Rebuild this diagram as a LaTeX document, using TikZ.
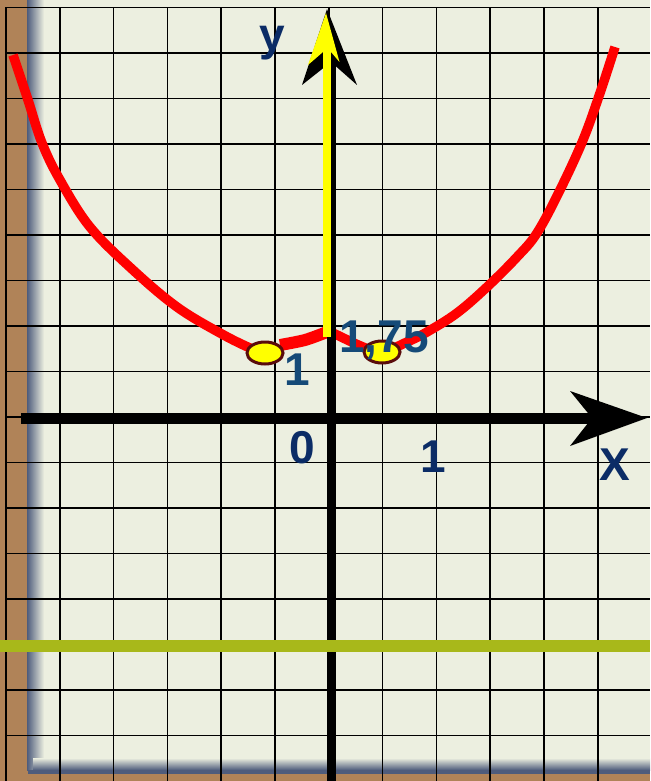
\documentclass[tikz,border=0pt]{standalone}
\usepackage{fontspec}
\setmainfont{Liberation Sans}
\usetikzlibrary{shapes.geometric}
\definecolor{bgc}{HTML}{ECEFE0}
\definecolor{brownc}{HTML}{B08358}
\definecolor{shadowc}{HTML}{4E5C7C}
\definecolor{navyc}{HTML}{0B2C66}
\definecolor{tealc}{HTML}{154A78}
\definecolor{greenc}{HTML}{A8B81A}
\definecolor{rimc}{HTML}{5A0C0C}
\definecolor{yelc}{HTML}{FFFF00}
\begin{document}
\begin{tikzpicture}[x=1pt,y=-1pt,
  gridline/.style={black,line width=1.7pt},
  lbl/.style={font=\fontsize{46}{46}\selectfont\bfseries,text=navyc,inner sep=0pt},
  redline/.style={red,line width=9.5pt,line cap=butt,line join=round},
  ptdot/.style={ellipse,draw=rimc,fill=yelc,line width=3pt,minimum width=36pt,minimum height=22pt,inner sep=0pt}]
\useasboundingbox (0,0) rectangle (650,781);
\fill[bgc] (0,0) rectangle (650,781);
% wooden frame
\fill[brownc] (0,0) rectangle (28,781);
\shade[left color=shadowc,right color=bgc] (27,0) rectangle (44,770);
\shade[top color=bgc,bottom color=shadowc] (33,758) rectangle (650,770);
\fill[shadowc] (28,770) rectangle (650,774);
\fill[brownc] (28,774) rectangle (650,781);
% grid
\foreach \k in {0,...,11} \draw[gridline] ({6+53.8*\k},7.5) -- ({6+53.8*\k},781);
\foreach \k in {0,...,16} \draw[gridline] (6,{7.5+45.5*\k}) -- (650,{7.5+45.5*\k});
% red curve
\draw[redline] plot[smooth,tension=0.6] coordinates {(13,55) (28,100) (42,143) (60,180) (90,227) (133,270) (177,307) (220,333) (250,348) (265,353)};
\draw[redline,line width=12pt] plot[smooth] coordinates {(280,345) (305,340) (327,332)};
\draw[redline] plot[smooth,tension=0.6] coordinates {(331,332) (363,347) (382,352) (407,342) (427,332) (457,313) (487,287) (517,257) (537,233) (560,190) (583,140) (600,93) (615,47)};
% x axis
\coordinate (xo) at (21,418.5);
\coordinate (xe) at (594,418.5);
\draw[black,line width=11pt] (xo) -- (xe);
\fill[black] (647,418) -- (570,391) -- (592,418) -- (570,446) -- cycle;
% y axis
\coordinate (yo) at (331.5,781);
\coordinate (ye) at (331.5,62);
\draw[black,line width=9.5pt] (yo) -- (ye);
\fill[black] (327,9) -- (357,85) -- (331,62) -- (302,85) -- cycle;
\coordinate (yy0) at (327.2,337);
\coordinate (yy1) at (327.2,52);
\draw[yelc,line width=8pt] (yy0) -- (yy1);
\fill[yelc] (326,13) -- (339.5,62) -- (331,52) -- (323,52) -- (308,65) -- cycle;
% green line
\coordinate (g0) at (0,646);
\coordinate (g1) at (650,646);
\draw[greenc,line width=12pt] (g0) -- (g1);
% points
\node[ptdot] (pa) at (265,353) {};
\node[ptdot] (pb) at (382,352) {};
% labels
\node[lbl,text=tealc,anchor=base] (one) at (297,385) {1};
\node[lbl,text=tealc,anchor=base west] (val) at (339,352) {1,75};
\node[lbl,anchor=base] (zero) at (302,463) {0};
\node[lbl,anchor=base] (onex) at (433,472) {1};
\node[lbl,anchor=base] (xl) at (615,480) {X};
\node[lbl,anchor=base] (yl) at (272,51) {y};
\end{tikzpicture}
\end{document}
